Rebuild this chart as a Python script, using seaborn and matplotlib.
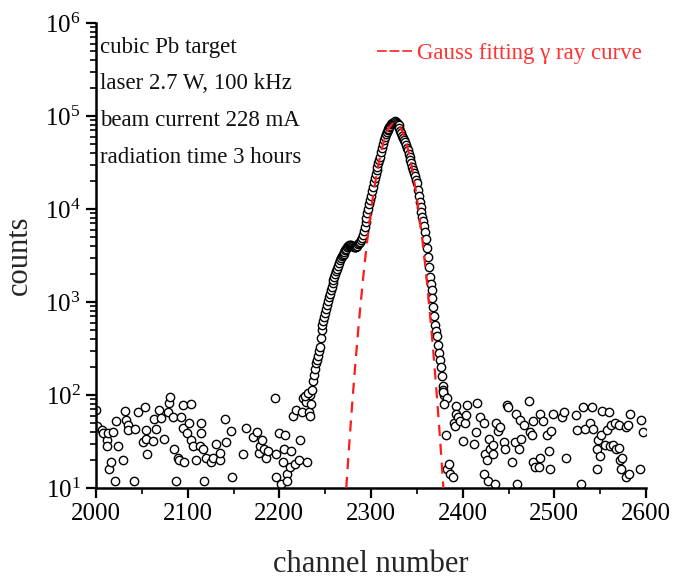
import numpy as np
import pandas as pd
import matplotlib
matplotlib.use("Agg")
import matplotlib.pyplot as plt
import seaborn as sns
from matplotlib.ticker import LogLocator, LogFormatterMathtext, MultipleLocator, NullFormatter
from matplotlib.lines import Line2D

# ---------------- data ----------------
left_ch = [2000, 2001, 2006, 2008, 2012, 2012, 2013, 2014, 2016, 2018, 2021, 2022, 2024, 2029,
           2032, 2033, 2035, 2035, 2041, 2043, 2046, 2051, 2053, 2055, 2055, 2056, 2062, 2063,
           2065, 2069, 2071, 2074, 2079, 2080, 2081, 2084, 2085, 2087, 2089, 2090, 2093, 2095,
           2095, 2096, 2099, 2101, 2104, 2104, 2106, 2109, 2113, 2114, 2115, 2117, 2118, 2120,
           2125, 2128, 2131, 2135, 2135, 2141, 2142, 2147, 2148, 2160, 2164, 2171, 2176, 2178,
           2179, 2181, 2183, 2185, 2188, 2195, 2196, 2196, 2200, 2202, 2204, 2205, 2206, 2208,
           2208, 2212, 2213, 2215, 2217, 2218, 2221, 2222, 2225, 2226, 2229, 2230, 2232, 2233,
           2233, 2235, 2228, 2231]
left_counts = [69, 46, 42, 39, 33, 28, 39, 16, 19, 40, 12, 52, 28, 20,
               68, 54, 48, 42, 12, 43, 66, 31, 74, 42, 34, 23, 32, 55,
               43, 69, 56, 34, 66, 83, 96, 58, 26, 12, 21, 20, 58, 79,
               44, 19, 39, 50, 80, 33, 28, 20, 28, 39, 50, 26, 12, 21,
               19, 21, 30, 20, 24, 55, 31, 41, 13, 23, 44, 35, 40, 24,
               28, 33, 26, 21, 25, 92, 23, 13, 39, 11, 19, 26, 37, 14,
               12, 17, 25, 60, 18, 69, 20, 33, 65, 92, 85, 19, 66, 60,
               100, 80, 98, 104]

peak_ch = list(range(2236, 2381))
peak_counts = [112, 140, 166, 192, 219, 240, 263, 295, 331, 410,
               501, 565, 631, 695, 759, 845, 933, 1025, 1122, 1230,
               1349, 1465, 1585, 1720, 1862, 2000, 2138, 2290, 2455, 2630,
               2818, 2950, 3090, 3200, 3311, 3470, 3631, 3760, 3890, 3980,
               4074, 4100, 4074, 4030, 3981, 3930, 3890, 3880, 3890, 4020,
               4169, 4310, 4467, 4670, 4898, 5300, 5754, 6450, 7244, 8100,
               9120, 10100, 11220, 12400, 13800, 15500, 17380, 19300, 21380, 23700,
               26300, 28500, 30900, 33500, 36300, 40700, 45700, 50200, 55000, 59600,
               64600, 67700, 70800, 73300, 75900, 78600, 81300, 83200, 85100, 87000,
               89100, 87200, 85100, 82200, 79400, 74100, 69200, 65300, 61700, 58300,
               55000, 51900, 49000, 45700, 42700, 39400, 36300, 33500, 30900, 28500,
               26300, 24300, 22400, 20700, 19050, 16200, 13800, 12000, 10500, 9300,
               8300, 7400, 6600, 5600, 4790, 3800, 3020, 2370, 1860, 1580,
               1350, 1100, 891, 710, 562, 490, 427, 345, 282, 238,
               200, 160, 126, 112, 100]

right_ch = [2379, 2383, 2380, 2382, 2383, 2385, 2386, 2389, 2390, 2392, 2393, 2393, 2395, 2397,
            2400, 2402, 2404, 2405, 2412, 2415, 2416, 2419, 2423, 2423, 2424, 2427, 2428, 2429,
            2430, 2433, 2433, 2435, 2436, 2439, 2441, 2445, 2446, 2448, 2449, 2454, 2457, 2458,
            2459, 2461, 2463, 2464, 2467, 2472, 2473, 2476, 2477, 2477, 2479, 2483, 2484, 2484,
            2488, 2492, 2494, 2495, 2496, 2498, 2508, 2510, 2513, 2524, 2525, 2529, 2531, 2533,
            2539, 2541, 2542, 2546, 2546, 2548, 2550, 2551, 2552, 2555, 2557, 2560, 2561, 2562,
            2564, 2566, 2567, 2570, 2571, 2572, 2573, 2574, 2578, 2578, 2580, 2581, 2582, 2593,
            2595, 2597]
right_counts = [109, 92, 81, 37, 16, 18, 14, 13, 50, 46, 76, 63, 58, 52,
                32, 50, 61, 78, 30, 40, 83, 58, 50, 14, 23, 20, 12, 34,
                26, 23, 29, 11, 50, 41, 45, 31, 26, 78, 75, 19, 31, 62,
                11, 26, 54, 34, 47, 87, 40, 37, 53, 19, 17, 17, 21, 63,
                52, 37, 25, 16, 41, 62, 58, 66, 21, 61, 42, 11, 75, 43,
                50, 75, 43, 16, 26, 33, 22, 37, 68, 29, 42, 65, 28, 47,
                29, 50, 26, 47, 27, 20, 16, 21, 13, 45, 47, 14, 62, 16,
                54, 40]

# Gauss fitting curve
fit_ch = [2273, 2276, 2278, 2281, 2283, 2286, 2288, 2291, 2293, 2296, 2298, 2301, 2303,
          2306, 2308, 2311, 2313, 2316, 2318, 2321, 2323, 2326, 2329, 2331, 2334, 2336,
          2339, 2341, 2344, 2346, 2349, 2351, 2354, 2356, 2359, 2361, 2364, 2366, 2369,
          2371, 2374, 2376, 2379]
fit_counts = [10, 27, 51, 125, 220, 491, 811, 1640, 2550, 4680, 6800, 11300, 15400,
              23400, 29900, 41100, 49300, 61500, 69100, 78300, 82500, 85000, 82500, 78300,
              69100, 61500, 49300, 41100, 29900, 23400, 15400, 11300, 6800, 4680, 2550, 1640,
              811, 491, 220, 125, 51, 27, 10]

info_lines = ["cubic Pb target", "laser 2.7 W, 100 kHz", "beam current 228 mA",
              "radiation time 3 hours"]
legend_label = "Gauss fitting \u03b3 ray curve"
x_label = "channel number"
y_label = "counts"

# ---------------- style ----------------
sns.set_theme(style="ticks")
plt.rcParams["font.family"] = ["Liberation Serif", "DejaVu Serif"]
plt.rcParams["mathtext.fontset"] = "custom"
plt.rcParams["mathtext.rm"] = "Liberation Serif"
plt.rcParams["mathtext.it"] = "Liberation Serif:italic"
plt.rcParams["mathtext.bf"] = "Liberation Serif:bold"

df = pd.DataFrame({
    "channel": left_ch + peak_ch + right_ch,
    "counts": left_counts + peak_counts + right_counts,
})
fit_df = pd.DataFrame({"channel": fit_ch, "counts": fit_counts})

fig = plt.figure(figsize=(6.73, 5.80), dpi=100)
ax = fig.add_axes([96 / 673, 1 - 488 / 580, 550 / 673, 465 / 580])

sns.scatterplot(data=df, x="channel", y="counts", ax=ax, marker="o", s=36,
                facecolor="white", edgecolor="black", linewidth=1.0, zorder=2,
                legend=False)
sns.lineplot(data=fit_df, x="channel", y="counts", ax=ax, color="#ff1a1a",
             linewidth=1.6, dashes=False, zorder=3, legend=False)
ax.lines[-1].set_linestyle((0, (5, 3.5)))

ax.set_yscale("log")
ax.set_xlim(2000, 2600)
ax.set_ylim(10, 1e6)
ax.xaxis.set_major_locator(MultipleLocator(100))
ax.xaxis.set_minor_locator(MultipleLocator(50))
ax.yaxis.set_major_locator(LogLocator(base=10, numticks=10))
ax.yaxis.set_minor_locator(LogLocator(base=10, subs=np.arange(2, 10), numticks=20))
ax.yaxis.set_major_formatter(LogFormatterMathtext())
ax.yaxis.set_minor_formatter(NullFormatter())

for s in ["top", "right"]:
    ax.spines[s].set_visible(False)
for s in ["left", "bottom"]:
    ax.spines[s].set_linewidth(1.8)
    ax.spines[s].set_color("black")

ax.tick_params(axis="both", which="major", direction="out", length=7, width=1.6,
               labelsize=18, colors="black", pad=4)
ax.tick_params(axis="both", which="minor", direction="out", length=4, width=1.2,
               colors="black")

ax.set_xlabel(x_label, fontsize=22, labelpad=18)
ax.set_ylabel(y_label, fontsize=22, labelpad=8)

for i, line in enumerate(info_lines):
    ax.text(2004, 10 ** (5.74 - i * 0.395), line, fontsize=16.5, color="#111111",
            ha="left", va="center")

handle = Line2D([0], [0], color="#ff3333", linestyle=(0, (5.4, 1.6)), linewidth=1.3)
leg = ax.legend([handle], [legend_label], loc="center right",
                bbox_to_anchor=(1.01, 0.935), frameon=False, fontsize=16.5,
                handlelength=1.65, handletextpad=0.1, borderaxespad=0)
for t in leg.get_texts():
    t.set_color("#ff3333")

fig.savefig("out.png", dpi=100, facecolor="white")
